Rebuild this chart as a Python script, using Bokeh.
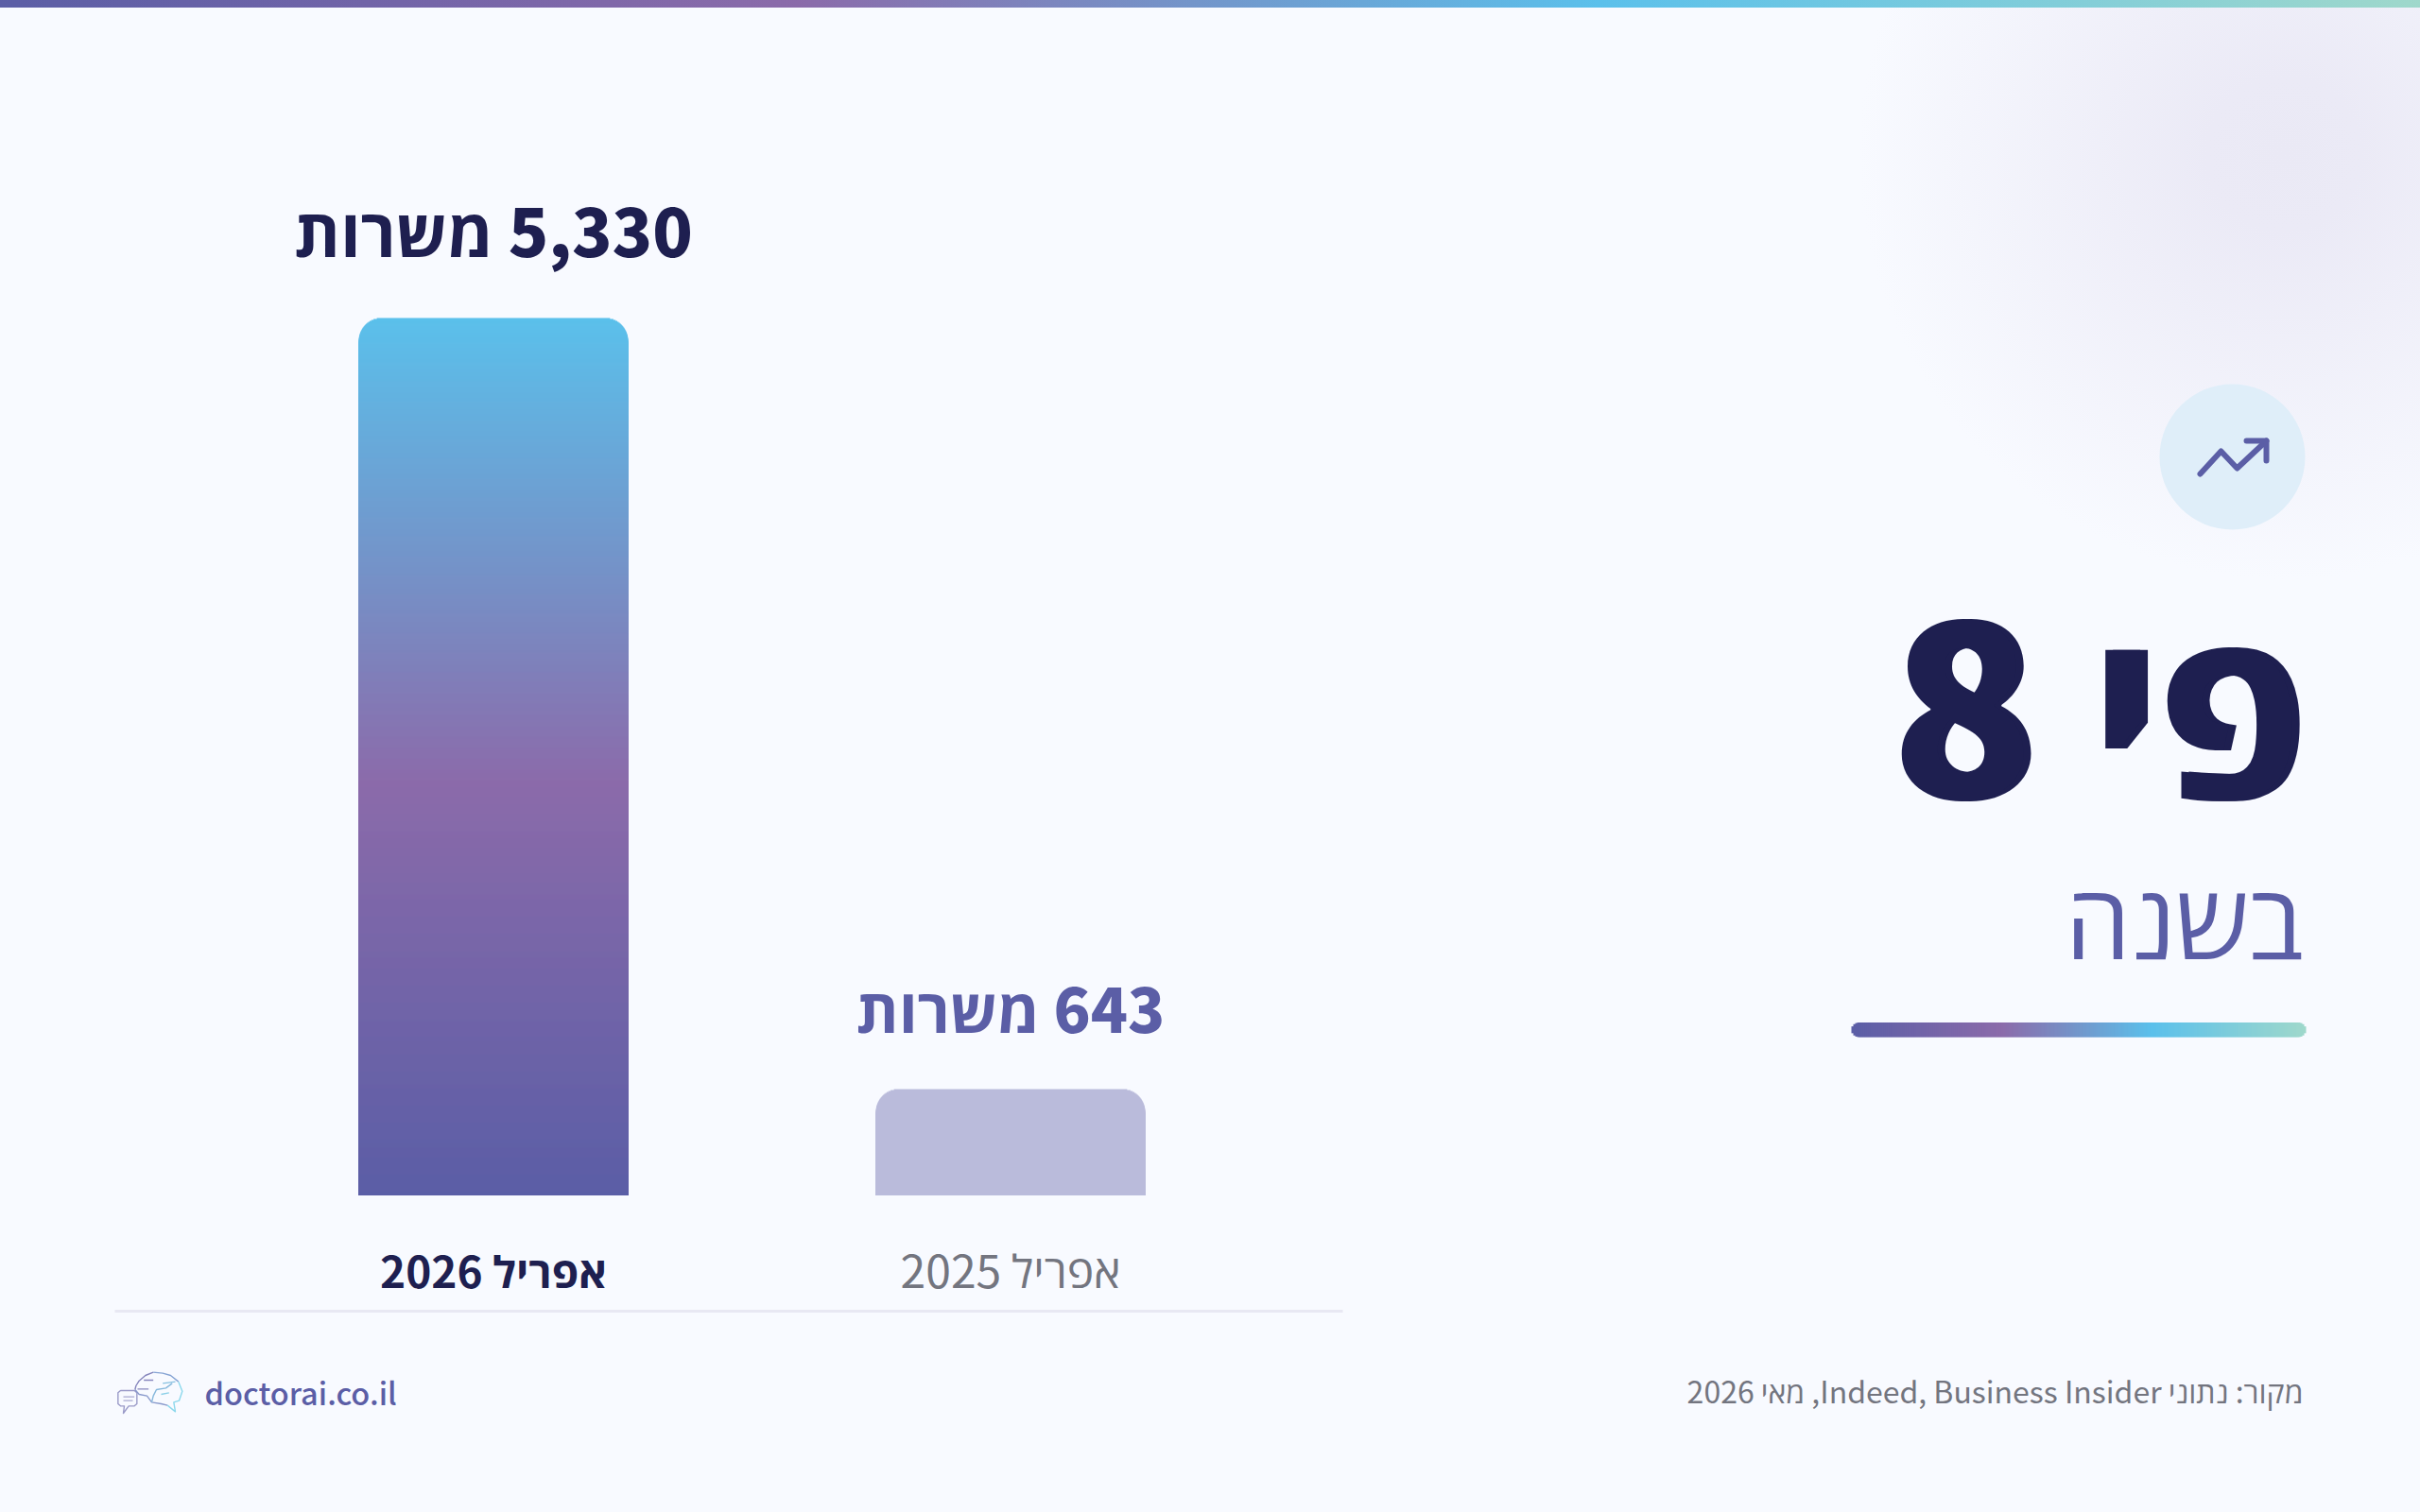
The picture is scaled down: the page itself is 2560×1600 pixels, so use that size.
import numpy as np
from bokeh.core.properties import value
from bokeh.embed import file_html
from bokeh.models import GlobalInlineStyleSheet, Range1d
from bokeh.plotting import figure
from bokeh.resources import INLINE

# data
months = ["אפריל 2026", "אפריל 2025"]
jobs = [5330, 643]
unit = "משרות"
headline = "פי 8"
subhead = "בשנה"
site = "doctorai.co.il"
source = "מקור: נתוני Indeed, Business Insider, מאי 2026"

NAVY = "#1E1F50"
INDIGO = "#5B5EA6"
GREY = "#73757F"
BAR_OLD = "#BABBDB"
BG = "#F8FAFF"
FONT = "Noto Sans CJK SC, Open Sans"
FONT_BLACK = "Noto Sans CJK SC Black, Open Sans"
FONT_MEDIUM = "Noto Sans CJK SC Medium, Open Sans"
RLE, PDF = "\u202b", "\u202c"
BASELINE_SHIFT = 0.44  # bokeh sets these fonts this far under the given y

# ranges are given in page pixels
PX_RIGHT, PX_BOTTOM = 2544, 1584
BASE_PX, TOP_PX = 1264, 336
jobs_per_px = jobs[0] / (BASE_PX - TOP_PX)

sheet = GlobalInlineStyleSheet(css=f"""
body {{
  background:
    linear-gradient(90deg, #5B5EA6, #8B6BAA 33%, #5BC0EB 66%, #9FD8CB) top / 100% 8px no-repeat,
    radial-gradient(circle 450px at 2416px 163px, #EAE9F5 0%, #EBEAF6 18%, {BG} 100%),
    {BG};
}}
""")

p = figure(width=PX_RIGHT, height=PX_BOTTOM,
           x_range=Range1d(0, PX_RIGHT),
           y_range=Range1d((BASE_PX - PX_BOTTOM) * jobs_per_px, BASE_PX * jobs_per_px),
           output_backend="svg", toolbar_location=None,
           x_axis_location=None, y_axis_location=None, min_border=0)
p.extra_y_ranges = {"px": Range1d(PX_BOTTOM, 0)}
p.grid.visible = False
p.outline_line_color = None
p.background_fill_color = None
p.border_fill_color = None
p.stylesheets = [sheet]


def mix(stops, t):
    pos = [s[0] for s in stops]
    rgb = [[int(s[1][i:i + 2], 16) for s in stops] for i in (1, 3, 5)]
    return "#%02x%02x%02x" % tuple(int(round(np.interp(t, pos, c))) for c in rgb)


def rounded_bar(center, val, width, radius_px, stops):
    # painted from the top down, each slice reaches the baseline so no seams show
    n = int(round(val / jobs_per_px))
    tops = np.linspace(val, val / n, n)
    d = (val - tops) / jobs_per_px
    inset = np.where(d < radius_px, radius_px - np.sqrt(np.maximum(radius_px ** 2 - (radius_px - d - .5) ** 2, 0)), 0)
    p.quad(left=center - width / 2 + inset, right=center + width / 2 - inset,
           bottom=0, top=tops, line_color=None,
           fill_color=[mix(stops, t) for t in tops / val])


def label(x, y, text, size, color, style="normal", align="center", font=FONT, **kw):
    p.text(x=[x], y=[y], text=[text], y_range_name="px", text_font=value(font),
           text_font_size=f"{size}px", text_font_style=style, text_color=color,
           text_align=align, text_baseline="alphabetic", y_offset=-BASELINE_SHIFT * size, **kw)


bar_x = [521.5, 1068.5]
rounded_bar(bar_x[0], jobs[0], 285, 24, [(0, "#5B5EA6"), (.47, "#8B6BAA"), (1, "#5BC0EB")])
rounded_bar(bar_x[1], jobs[1], 285, 24, [(0, BAR_OLD), (1, BAR_OLD)])

label(bar_x[0], 272, f"{RLE}{jobs[0]:,} {unit}{PDF}", 70, NAVY, "bold", font=FONT_BLACK)
label(bar_x[1], 1093, f"{RLE}{jobs[1]:,} {unit}{PDF}", 64.5, INDIGO, "bold", font=FONT_BLACK)
label(bar_x[0], 1363, f"{RLE}{months[0]}{PDF}", 46, NAVY, "bold")
label(bar_x[1], 1363, f"{RLE}{months[1]}{PDF}", 48, GREY)

p.line([121, 1420], [1387, 1387], y_range_name="px", line_color="#E8E8F3", line_width=3)

# right panel
p.circle(x=[2361], y=[483], radius=77, y_range_name="px", fill_color="#DFEEF9", line_color=None)
p.line([2327, 2349, 2366, 2397], [501, 477, 495, 466], y_range_name="px", line_color=INDIGO,
       line_width=6, line_cap="round", line_join="round")
p.line([2376, 2397, 2397], [466, 466, 487], y_range_name="px", line_color=INDIGO,
       line_width=6, line_cap="round", line_join="round")

# second copy thickens the headline, no heavier Hebrew face is available
label(2444, 845, f"{RLE}{headline}{PDF}", 250, NAVY, "bold", "right", font=FONT_BLACK)
label(2436, 845, f"{RLE}{headline}{PDF}", 250, NAVY, "bold", "right", font=FONT_BLACK)
label(2436, 1015, f"{RLE}{subhead}{PDF}", 110, INDIGO, "normal", "right", font=FONT_MEDIUM)

# accent bar under the headline
ax = np.arange(1958, 2438, 2.0)
edge = np.minimum(ax + 1 - 1958, 2438 - ax - 1)
ins = np.where(edge < 8, 8 - np.sqrt(np.maximum(64 - (8 - edge) ** 2, 0)), 0)
p.quad(left=ax, right=ax + 3, top=1081.5 + ins, bottom=1097 - ins, y_range_name="px", line_color=None,
       fill_color=[mix([(0, "#5B5EA6"), (.33, "#8B6BAA"), (.66, "#5BC0EB"), (1, "#9FD8CB")], (v - 1958) / 480) for v in ax])

# footer
label(216, 1486, site, 32.5, INDIGO, "normal", "left", font=FONT_MEDIUM)
label(2436, 1485, f"{RLE}{source}{PDF}", 32, GREY, "normal", "right")

# small brain and speech bubble logo, traced in a 3x grid from its corner
logo_paths = [
    ([36, 80, 88, 88, 80, 62, 45, 48, 36, 28, 28, 36], [93, 93, 100, 135, 142, 142, 165, 142, 142, 135, 100, 93], "#9A9AC8"),
    ([45, 80], [113, 113], "#A8A8D0"),
    ([45, 75], [125, 125], "#A8A8D0"),
    ([82, 85, 95, 115, 140], [90, 78, 62, 45, 35], "#8585BC"),
    ([140, 170, 195, 220], [35, 38, 45, 65], "#86A4D4"),
    ([220, 232, 222, 205, 210, 185], [65, 95, 125, 130, 160, 140], "#8CD8EC"),
    ([185, 165, 135, 120, 95, 82], [140, 135, 130, 110, 105, 90], "#8A9ACC"),
    ([135, 140, 150, 180, 200], [130, 110, 90, 85, 70], "#86B8DC"),
    ([110, 140], [60, 60], "#8888BE"),
    ([90, 125], [88, 88], "#8888BE"),
    ([170, 210], [70, 65], "#86C0E0"),
    ([165, 190], [105, 100], "#8CD0E8"),
]
p.multi_line([[115 + v / 3 for v in a] for a, b, c in logo_paths],
             [[1440 + v / 3 for v in b] for a, b, c in logo_paths],
             y_range_name="px", line_color=[c for a, b, c in logo_paths], line_width=1.4, line_join="round")

open("out.html", "w").write(file_html(p, INLINE))
